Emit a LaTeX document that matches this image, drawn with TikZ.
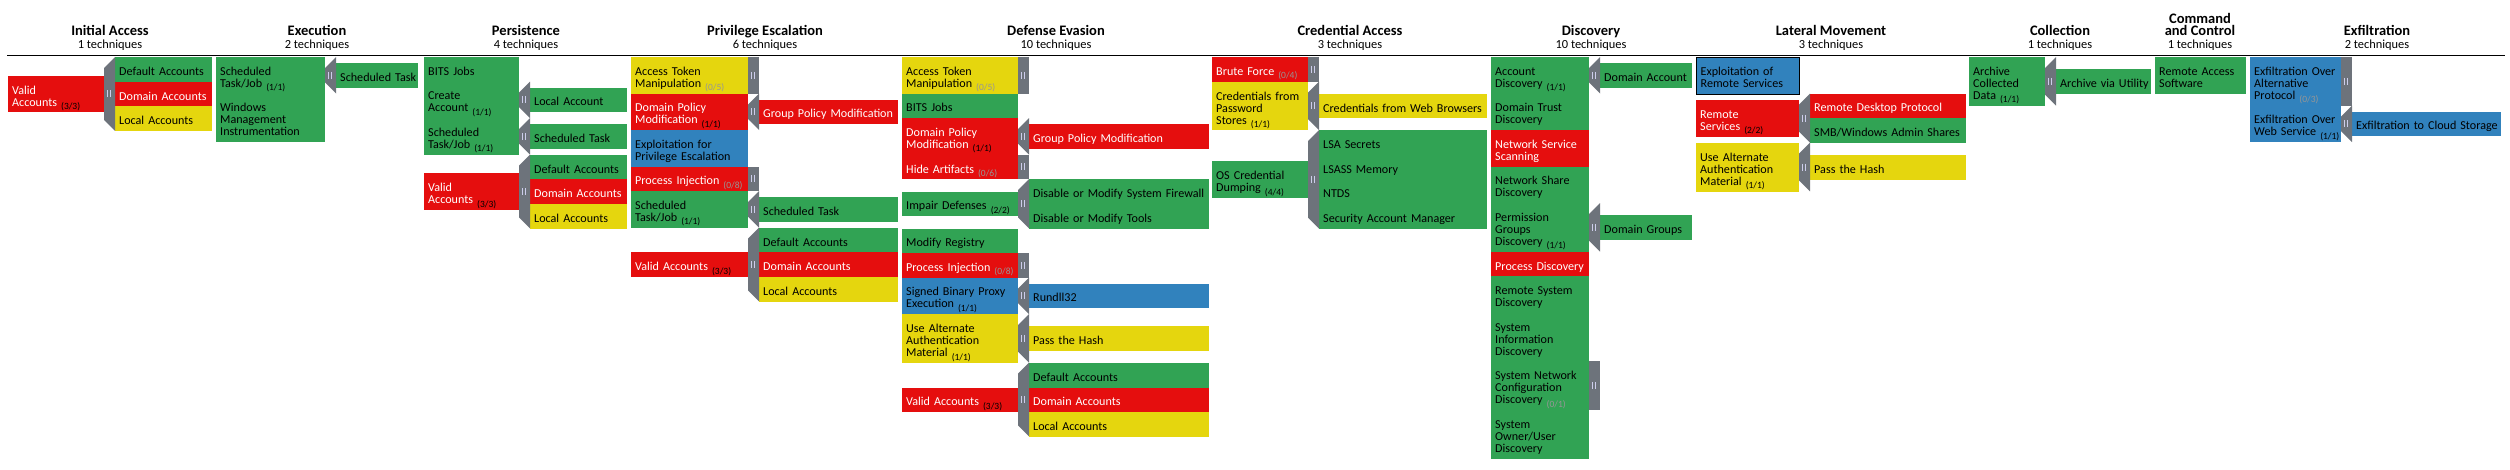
\documentclass[tikz,border=0pt]{standalone}
\usepackage{fontspec}
\setmainfont{Carlito}
\usetikzlibrary{positioning}

\definecolor{tgreen}{RGB}{49,163,84}
\definecolor{tred}{RGB}{229,14,14}
\definecolor{tyellow}{RGB}{229,214,14}
\definecolor{tblue}{RGB}{49,130,189}
\definecolor{tgray}{RGB}{109,115,123}
\definecolor{tgrip}{RGB}{205,205,235}
\definecolor{cntzero}{RGB}{150,150,150}

\newcommand{\cellfont}{\fontsize{12.1}{12}\selectfont}
\newcommand{\cnt}[1]{\smash{\raisebox{-3.5pt}{\fontsize{9.5}{9.5}\selectfont\color{black}(#1)}}}
\newcommand{\cntz}[1]{\smash{\raisebox{-3.5pt}{\fontsize{9.5}{9.5}\selectfont\color{cntzero}(#1)}}}
% grip marks of a sidebar: x, top, bottom
\newcommand{\grip}[3]{%
  \pgfmathsetmacro{\gy}{(#2+#3)/2}
  \draw[tgrip, line width=0.9pt] (#1+3.6,\gy-3.5) -- (#1+3.6,\gy+3.5)
    (#1+6.2,\gy-3.5) -- (#1+6.2,\gy+3.5);}
% closed sidebar
\newcommand{\sbar}[3]{%
  \fill[tgray] (#1,#2) rectangle (#1+11,#3);
  \grip{#1}{#2}{#3}}
% open sidebar, with the notch
\newcommand{\sbarcut}[3]{%
  \fill[tgray] (#1+11,#2) -- (#1+11,#3) -- (#1,#3-11) -- (#1,#2+11) -- cycle;
  \grip{#1}{#2}{#3}}

\begin{document}
\begin{tikzpicture}[x=1pt,y=-1pt]
  \tikzset{tech/.style = {anchor=north west, inner xsep=4pt, inner ysep=0pt,
      font=\cellfont, minimum height=#1,
      execute at begin node={\raggedright\rightskip=0pt plus 1fil minus 1000pt%
        \hyphenpenalty=10000\rule{0pt}{15.3pt}},
      execute at end node={\rule[-3.5pt]{0pt}{3.5pt}}}}
  \tikzset{grn/.style={fill=tgreen}, rd/.style={fill=tred, text=white},
    ylw/.style={fill=tyellow}, blu/.style={fill=tblue}}
  \tikzset{tactic/.style = {anchor=base, font=\bfseries\fontsize{14.5}{15}\selectfont}}
  \tikzset{ntech/.style = {anchor=base, font=\fontsize{12.4}{12}\selectfont}}
  % column widths
  \tikzset{pia/.style={text width=88}, sia/.style={text width=89},
    pex/.style={text width=101}, sex/.style={text width=74},
    ppe/.style={text width=87}, spe/.style={text width=89},
    ppr/.style={text width=109}, spr/.style={text width=131},
    pde/.style={text width=108}, sde/.style={text width=172},
    pca/.style={text width=88}, sca/.style={text width=160},
    pdi/.style={text width=90}, sdi/.style={text width=84},
    plm/.style={text width=95}, slm/.style={text width=148},
    pco/.style={text width=68}, sco/.style={text width=87},
    pcc/.style={text width=83},
    pxf/.style={text width=83}, sxf/.style={text width=141}}

  \useasboundingbox (0,0) rectangle (2510,469);

  % tactics
  \node[tactic] (tia) at (110,35) {Initial Access};
  \node[ntech] (nia) at (110,48.3) {1 techniques};
  \node[tactic] (tex) at (317,35) {Execution};
  \node[ntech] (nex) at (317,48.3) {2 techniques};
  \node[tactic] (tpe) at (526,35) {Persistence};
  \node[ntech] (npe) at (526,48.3) {4 techniques};
  \node[tactic] (tpr) at (765,35) {Privilege Escalation};
  \node[ntech] (npr) at (765,48.3) {6 techniques};
  \node[tactic] (tde) at (1056,35) {Defense Evasion};
  \node[ntech] (nde) at (1056,48.3) {10 techniques};
  \node[tactic] (tca) at (1350,35) {Credential Access};
  \node[ntech] (nca) at (1350,48.3) {3 techniques};
  \node[tactic] (tdi) at (1591,35) {Discovery};
  \node[ntech] (ndi) at (1591,48.3) {10 techniques};
  \node[tactic] (tlm) at (1831,35) {Lateral Movement};
  \node[ntech] (nlm) at (1831,48.3) {3 techniques};
  \node[tactic] (tco) at (2060,35) {Collection};
  \node[ntech] (nco) at (2060,48.3) {1 techniques};
  \node[tactic] (tcc) at (2200,23.3) {Command};
  \node[tactic] (tcc2) at (2200,35) {and Control};
  \node[ntech] (ncc) at (2200,48.3) {1 techniques};
  \node[tactic] (txf) at (2377,35) {Exfiltration};
  \node[ntech] (nxf) at (2377,48.3) {2 techniques};
  \draw[line width=1.2pt] (7,55.5) -- (2505,55.5);

  % Initial Access
  \node[tech=36.5, rd, pia] (ia1) at (8,75.65) {Valid\\Accounts \cnt{3/3}};
  \node[tech=24.6, grn, sia] (ia1a) at (115,57) {Default Accounts};
  \node[tech=24.6, rd, sia] (ia1b) at (115,81.6) {Domain Accounts};
  \node[tech=24.6, ylw, sia] (ia1c) at (115,106.2) {Local Accounts};
  \sbarcut{104}{57}{130.8}

  % Execution
  \node[tech=36.5, grn, pex] (ex1) at (216,57) {Scheduled\\Task/Job \cnt{1/1}};
  \node[tech=48.6, grn, pex] (ex2) at (216,93.5) {Windows\\Management\\Instrumentation};
  \node[tech=24.6, grn, sex] (ex1a) at (336,62.95) {Scheduled Task};
  \sbarcut{325}{57}{93.5}

  % Persistence
  \node[tech=24.6, grn, ppe] (pe1) at (424,57) {BITS Jobs};
  \node[tech=36.5, grn, ppe] (pe2) at (424,81.6) {Create\\Account \cnt{1/1}};
  \node[tech=36.5, grn, ppe] (pe3) at (424,118.1) {Scheduled\\Task/Job \cnt{1/1}};
  \node[tech=36.5, rd, ppe] (pe4) at (424,173.25) {Valid\\Accounts \cnt{3/3}};
  \node[tech=24.6, grn, spe] (pe2a) at (530,87.55) {Local Account};
  \node[tech=24.6, grn, spe] (pe3a) at (530,124.05) {Scheduled Task};
  \node[tech=24.6, grn, spe] (pe4a) at (530,154.6) {Default Accounts};
  \node[tech=24.6, rd, spe] (pe4b) at (530,179.2) {Domain Accounts};
  \node[tech=24.6, ylw, spe] (pe4c) at (530,203.8) {Local Accounts};
  \sbarcut{519}{81.6}{118.1}
  \sbarcut{519}{118.1}{154.6}
  \sbarcut{519}{154.6}{228.4}

  % Privilege Escalation
  \node[tech=36.5, ylw, ppr] (pr1) at (631,57) {Access Token\\Manipulation \cntz{0/5}};
  \node[tech=36.5, rd, ppr] (pr2) at (631,93.5) {Domain Policy\\Modification \cnt{1/1}};
  \node[tech=36.5, blu, ppr] (pr3) at (631,130) {Exploitation for\\Privilege Escalation};
  \node[tech=24.6, rd, ppr] (pr4) at (631,166.5) {Process Injection \cntz{0/8}};
  \node[tech=36.5, grn, ppr] (pr5) at (631,191.1) {Scheduled\\Task/Job \cnt{1/1}};
  \node[tech=24.6, rd, ppr] (pr6) at (631,252.2) {Valid Accounts \cnt{3/3}};
  \node[tech=24.6, rd, spr] (pr2a) at (759,99.45) {Group Policy Modification};
  \node[tech=24.6, grn, spr] (pr5a) at (759,197.05) {Scheduled Task};
  \node[tech=24.6, grn, spr] (pr6a) at (759,227.6) {Default Accounts};
  \node[tech=24.6, rd, spr] (pr6b) at (759,252.2) {Domain Accounts};
  \node[tech=24.6, ylw, spr] (pr6c) at (759,276.8) {Local Accounts};
  \sbar{748}{57}{93.5}
  \sbarcut{748}{93.5}{130}
  \sbar{748}{166.5}{191.1}
  \sbarcut{748}{191.1}{227.6}
  \sbarcut{748}{227.6}{301.4}

  % Defense Evasion
  \node[tech=36.5, ylw, pde] (de1) at (902,57) {Access Token\\Manipulation \cntz{0/5}};
  \node[tech=24.6, grn, pde] (de2) at (902,93.5) {BITS Jobs};
  \node[tech=36.5, rd, pde] (de3) at (902,118.1) {Domain Policy\\Modification \cnt{1/1}};
  \node[tech=24.6, rd, pde] (de4) at (902,154.6) {Hide Artifacts \cntz{0/6}};
  \node[tech=24.6, grn, pde] (de5) at (902,191.5) {Impair Defenses \cnt{2/2}};
  \node[tech=24.6, grn, pde] (de6) at (902,228.4) {Modify Registry};
  \node[tech=24.6, rd, pde] (de7) at (902,253) {Process Injection \cntz{0/8}};
  \node[tech=36.5, blu, pde] (de8) at (902,277.6) {Signed Binary Proxy\\Execution \cnt{1/1}};
  \node[tech=48.6, ylw, pde] (de9) at (902,314.1) {Use Alternate\\Authentication\\Material \cnt{1/1}};
  \node[tech=24.6, rd, pde] (de10) at (902,387.3) {Valid Accounts \cnt{3/3}};
  \node[tech=24.6, rd, sde] (de3a) at (1029,124.05) {Group Policy Modification};
  \node[tech=24.6, grn, sde] (de5a) at (1029,179.2) {Disable or Modify System Firewall};
  \node[tech=24.6, grn, sde] (de5b) at (1029,203.8) {Disable or Modify Tools};
  \node[tech=24.6, blu, sde] (de8a) at (1029,283.55) {Rundll32};
  \node[tech=24.6, ylw, sde] (de9a) at (1029,326.1) {Pass the Hash};
  \node[tech=24.6, grn, sde] (de10a) at (1029,362.7) {Default Accounts};
  \node[tech=24.6, rd, sde] (de10b) at (1029,387.3) {Domain Accounts};
  \node[tech=24.6, ylw, sde] (de10c) at (1029,411.9) {Local Accounts};
  \sbar{1018}{57}{93.5}
  \sbarcut{1018}{118.1}{154.6}
  \sbar{1018}{154.6}{179.2}
  \sbarcut{1018}{179.2}{228.4}
  \sbar{1018}{253}{277.6}
  \sbarcut{1018}{277.6}{314.1}
  \sbarcut{1018}{314.1}{362.7}
  \sbarcut{1018}{362.7}{436.5}

  % Credential Access
  \node[tech=24.6, rd, pca] (ca1) at (1212,57) {Brute Force \cntz{0/4}};
  \node[tech=48.6, ylw, pca] (ca2) at (1212,81.6) {Credentials from\\Password\\Stores \cnt{1/1}};
  \node[tech=36.5, grn, pca] (ca3) at (1212,161.15) {OS Credential\\Dumping \cnt{4/4}};
  \node[tech=24.6, ylw, sca] (ca2a) at (1319,93.6) {Credentials from Web Browsers};
  \node[tech=24.6, grn, sca] (ca3a) at (1319,130.2) {LSA Secrets};
  \node[tech=24.6, grn, sca] (ca3b) at (1319,154.8) {LSASS Memory};
  \node[tech=24.6, grn, sca] (ca3c) at (1319,179.4) {NTDS};
  \node[tech=24.6, grn, sca] (ca3d) at (1319,204) {Security Account Manager};
  \sbar{1308}{57}{81.6}
  \sbarcut{1308}{81.6}{130.2}
  \sbarcut{1308}{130.2}{228.6}

  % Discovery
  \node[tech=36.5, grn, pdi] (di1) at (1491,57) {Account\\Discovery \cnt{1/1}};
  \node[tech=36.5, grn, pdi] (di2) at (1491,93.5) {Domain Trust\\Discovery};
  \node[tech=36.5, rd, pdi] (di3) at (1491,130) {Network Service\\Scanning};
  \node[tech=36.5, grn, pdi] (di4) at (1491,166.5) {Network Share\\Discovery};
  \node[tech=48.6, grn, pdi] (di5) at (1491,203) {Permission\\Groups\\Discovery \cnt{1/1}};
  \node[tech=24.6, rd, pdi] (di6) at (1491,251.6) {Process Discovery};
  \node[tech=36.5, grn, pdi] (di7) at (1491,276.2) {Remote System\\Discovery};
  \node[tech=48.6, grn, pdi] (di8) at (1491,312.7) {System\\Information\\Discovery};
  \node[tech=48.6, grn, pdi] (di9) at (1491,361.3) {System Network\\Configuration\\Discovery \cntz{0/1}};
  \node[tech=48.6, grn, pdi] (di10) at (1491,409.9) {System\\Owner/User\\Discovery};
  \node[tech=24.6, grn, sdi] (di1a) at (1600,62.95) {Domain Account};
  \node[tech=24.6, grn, sdi] (di5a) at (1600,215) {Domain Groups};
  \sbarcut{1589}{57}{93.5}
  \sbarcut{1589}{203}{251.6}
  \sbar{1589}{361.3}{409.9}

  % Lateral Movement
  \node[tech=36.5, blu, plm, draw=black, line width=1.3pt] (lm1) at (1696,57) {Exploitation of\\Remote Services};
  \node[tech=36.5, rd, plm] (lm2) at (1696,99.85) {Remote\\Services \cnt{2/2}};
  \node[tech=48.6, ylw, plm] (lm3) at (1696,142.7) {Use Alternate\\Authentication\\Material \cnt{1/1}};
  \node[tech=24.6, rd, slm] (lm2a) at (1810,93.5) {Remote Desktop Protocol};
  \node[tech=24.6, grn, slm] (lm2b) at (1810,118.1) {SMB/Windows Admin Shares};
  \node[tech=24.6, ylw, slm] (lm3a) at (1810,154.7) {Pass the Hash};
  \sbarcut{1799}{93.5}{142.7}
  \sbarcut{1799}{142.7}{191.3}

  % Collection
  \node[tech=48.6, grn, pco] (co1) at (1969,57) {Archive\\Collected\\Data \cnt{1/1}};
  \node[tech=24.6, grn, sco] (co1a) at (2056,69) {Archive via Utility};
  \sbarcut{2045}{57}{105.6}

  % Command and Control
  \node[tech=36.5, grn, pcc] (cc1) at (2155,57) {Remote Access\\Software};

  % Exfiltration
  \node[tech=48.6, blu, pxf] (xf1) at (2250,57) {Exfiltration Over\\Alternative\\Protocol \cntz{0/3}};
  \node[tech=36.5, blu, pxf] (xf2) at (2250,105.6) {Exfiltration Over\\Web Service \cnt{1/1}};
  \node[tech=24.6, blu, sxf] (xf2a) at (2352,111.55) {Exfiltration to Cloud Storage};
  \sbar{2341}{57}{105.6}
  \sbarcut{2341}{105.6}{142.1}
\end{tikzpicture}
\end{document}
